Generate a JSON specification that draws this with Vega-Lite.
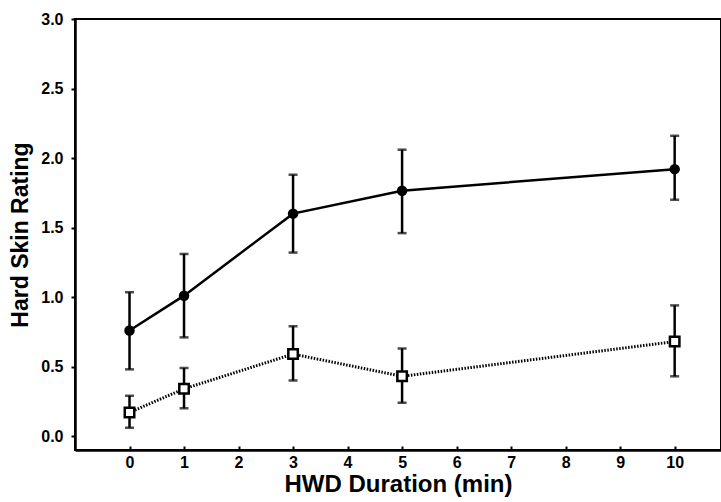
{
  "$schema": "https://vega.github.io/schema/vega-lite/v6.json",
  "autosize": {"type": "none"},
  "padding": {"left": 75, "top": 19, "right": 0, "bottom": 52},
  "width": 646,
  "height": 431,
  "background": "white",
  "config": {
    "view": {"stroke": "black", "strokeWidth": 2},
    "font": "Liberation Sans",
    "axis": {
      "domainColor": "black", "domainWidth": 2.5, "tickColor": "black", "tickWidth": 2, "tickSize": 4,
      "labelFont": "Liberation Sans", "labelFontWeight": "bold", "labelFontSize": 16, "labelColor": "black",
      "titleFont": "Liberation Sans", "titleFontWeight": "bold", "titleFontSize": 23, "titleColor": "black",
      "grid": false
    }
  },
  "data": {
    "values": [
      {"series": "A", "x": 0, "y": 0.76, "lo": 0.48, "hi": 1.035},
      {"series": "A", "x": 1, "y": 1.01, "lo": 0.71, "hi": 1.31},
      {"series": "A", "x": 3, "y": 1.60, "lo": 1.32, "hi": 1.88},
      {"series": "A", "x": 5, "y": 1.765, "lo": 1.46, "hi": 2.06},
      {"series": "A", "x": 10, "y": 1.92, "lo": 1.70, "hi": 2.16},
      {"series": "B", "x": 0, "y": 0.17, "lo": 0.06, "hi": 0.29},
      {"series": "B", "x": 1, "y": 0.34, "lo": 0.20, "hi": 0.49},
      {"series": "B", "x": 3, "y": 0.59, "lo": 0.40, "hi": 0.79},
      {"series": "B", "x": 5, "y": 0.43, "lo": 0.24, "hi": 0.63},
      {"series": "B", "x": 10, "y": 0.68, "lo": 0.43, "hi": 0.94}
    ]
  },
  "encoding": {
    "x": {
      "field": "x", "type": "quantitative",
      "scale": {"domain": [-1, 10.85], "nice": false, "zero": false},
      "axis": {"title": "HWD Duration (min)", "titleFontSize": 24, "values": [0,1,2,3,4,5,6,7,8,9,10], "labelPadding": 8, "titlePadding": 2, "tickSize": -4}
    }
  },
  "layer": [
    {
      "mark": {"type": "rule", "color": "black", "strokeWidth": 2.5},
      "encoding": {
        "y": {"field": "lo", "type": "quantitative",
          "scale": {"domain": [-0.1, 3.0], "nice": false, "zero": false},
          "axis": {"title": "Hard Skin Rating", "values": [0,0.5,1,1.5,2,2.5,3], "format": ".1f", "labelPadding": 8, "titlePadding": 8}},
        "y2": {"field": "hi"}
      }
    },
    {
      "mark": {"type": "tick", "color": "black", "size": 9, "thickness": 2.5, "orient": "horizontal"},
      "encoding": {"y": {"field": "lo", "type": "quantitative"}}
    },
    {
      "mark": {"type": "tick", "color": "black", "size": 9, "thickness": 2.5, "orient": "horizontal"},
      "encoding": {"y": {"field": "hi", "type": "quantitative"}}
    },
    {
      "transform": [{"filter": "datum.series === 'A'"}],
      "mark": {"type": "line", "color": "black", "strokeWidth": 2.5},
      "encoding": {"y": {"field": "y", "type": "quantitative"}}
    },
    {
      "transform": [{"filter": "datum.series === 'B'"}],
      "mark": {"type": "line", "color": "black", "strokeWidth": 3, "strokeDash": [1.5, 1.5]},
      "encoding": {"y": {"field": "y", "type": "quantitative"}}
    },
    {
      "transform": [{"filter": "datum.series === 'A'"}],
      "mark": {"type": "point", "shape": "circle", "filled": true, "color": "black", "size": 110, "opacity": 1},
      "encoding": {"y": {"field": "y", "type": "quantitative"}}
    },
    {
      "transform": [{"filter": "datum.series === 'B'"}],
      "mark": {"type": "point", "shape": "square", "filled": true, "fill": "white", "stroke": "black", "strokeWidth": 2.5, "size": 90, "opacity": 1},
      "encoding": {"y": {"field": "y", "type": "quantitative"}}
    }
  ]
}
